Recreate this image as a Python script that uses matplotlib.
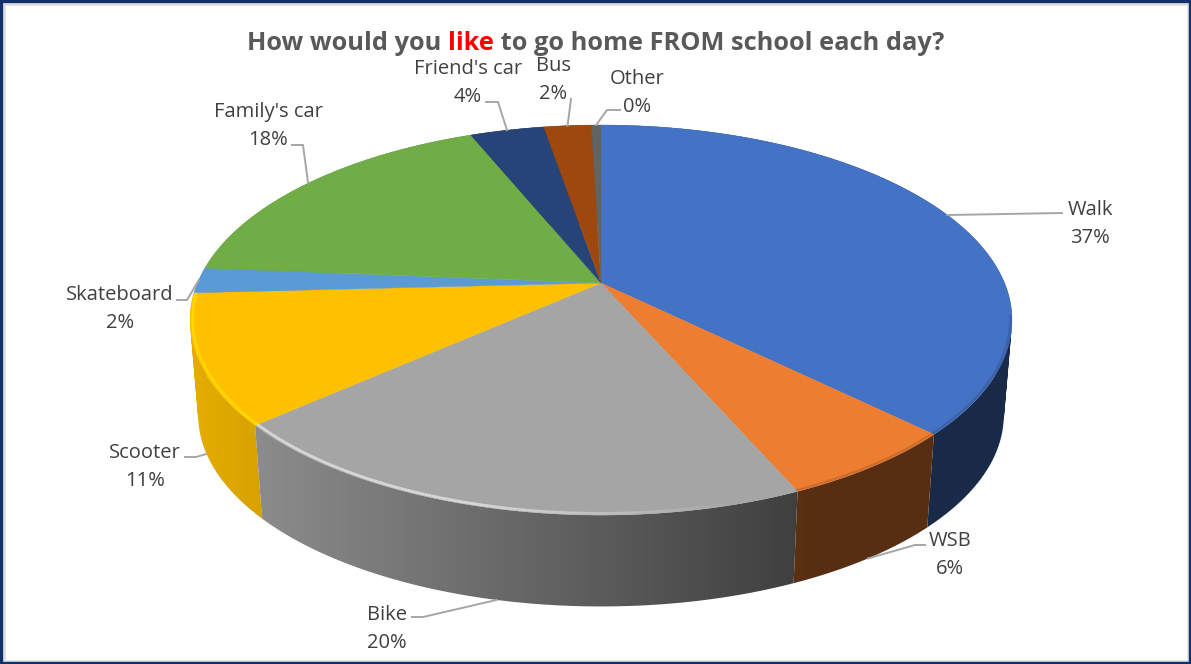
#!/usr/bin/env python3

import matplotlib

matplotlib.use("Agg")
import matplotlib.pyplot as plt
import numpy as np
from matplotlib.colors import to_rgb
from matplotlib.patches import PathPatch, Polygon, Rectangle
from matplotlib.path import Path

categories = ["Walk", "WSB", "Bike", "Scooter", "Skateboard", "Family's car", "Friend's car", "Bus", "Other"]
shares = [37.3, 6.1, 20.07, 10.7, 2.1, 17.52, 3.5, 2.24, 0.45]
percent_labels = ["37%", "6%", "20%", "11%", "2%", "18%", "4%", "2%", "0%"]
colors = ["#4472C4", "#ED7D31", "#A5A5A5", "#FFC000", "#5B9BD5", "#70AD47", "#264478", "#9E480E", "#636363"]

# where the labels sit, in pixels
label_pos = [(1090, 210), (950, 541), (387, 615), (145, 453), (120, 295), (268, 112), (468, 69), (553, 66), (637, 79)]
line_gap = 28
# leader start + elbow, last point is worked out from the slice
leader_start = [
    [(1062, 213)],
    [(925, 545), (915, 545)],
    [(412, 617), (423, 617)],
    [(185, 457), (196, 457)],
    [(177, 300), (187, 300)],
    [(292, 145), (303, 145)],
    [(486, 102), (498, 102)],
    [(571, 99)],
    [(620, 110), (607, 110)],
]
leader_on_wall = [False, True, True, True, False, False, False, False, False]

# perspective of the disc
CX, CY = 601, 283
A, B, K = 403.5, 188.0, 0.19
DEPTH, BOTTOM_SCALE = 96, 0.98


def project(theta, r=1.0):
    u, v = r * np.sin(theta), r * np.cos(theta)
    w = 1 + K * v
    return CX + A * u / w, CY - B * v / w


def project_bottom(theta):
    x, y = project(theta)
    return CX + (x - CX) * BOTTOM_SCALE, CY + DEPTH + (y - CY) * BOTTOM_SCALE


def shade(x):
    return np.clip(0.84 - (x - 265) * 0.45 / 525, 0.37, 0.9)


def wall_path(t):
    # one quad per step, all wound the same way so the union stays filled
    xs, ys = project(t)
    bxs, bys = project_bottom(t)
    quads = []
    for j in range(len(t) - 1):
        quad = np.array([(xs[j], ys[j]), (xs[j + 1], ys[j + 1]), (bxs[j + 1], bys[j + 1]), (bxs[j], bys[j])])
        qx, qy = quad[:, 0], quad[:, 1]
        area = np.sum(qx * np.roll(qy, -1) - np.roll(qx, -1) * qy)
        if area < 0:
            quad = quad[::-1]
        quads.append(Path(np.vstack([quad, quad[0]]), closed=True))
    return Path.make_compound_path(*quads)


fig = plt.figure(figsize=(11.91, 6.64), dpi=100)
ax = fig.add_axes([0, 0, 1, 1])
ax.axis("off")

ax.add_patch(Rectangle((3.5, 3.5), 1184, 657, facecolor="white", edgecolor="#DCDCDC", linewidth=1.8, zorder=0))
ax.add_patch(Rectangle((1, 1), 1189, 662, facecolor="none", edgecolor="#12306B", linewidth=2.4, zorder=0))

fractions = np.array(shares) / sum(shares)
edges = np.concatenate([[0], np.cumsum(fractions)]) * 2 * np.pi

# side wall, a horizontal gradient clipped to each slice's outline
gradient_x = np.arange(150, 1050)
for i, color in enumerate(colors):
    t = np.linspace(edges[i], edges[i + 1], 100)
    ys = project(t)[1]
    outline = PathPatch(wall_path(t), facecolor="none", edgecolor="none", transform=ax.transData)
    ax.add_patch(outline)
    rgb = np.array(to_rgb(color))
    strip = shade(gradient_x)[None, :, None] * rgb[None, None, :]
    # slices nearer the viewer go on top
    img = ax.imshow(strip, extent=(150, 1050, 664, 0), aspect="auto", zorder=2 + ys.mean() / 1000)
    img.set_clip_path(outline)

ax.set_xlim(0, 1191)
ax.set_ylim(664, 0)

# top of the disc
for i, color in enumerate(colors):
    t = np.linspace(edges[i], edges[i + 1], 100)
    xs, ys = project(t)
    pts = [(CX, CY)] + list(zip(xs, ys))
    ax.add_patch(Polygon(pts, facecolor=color, edgecolor=color, linewidth=0.3, zorder=3))

# bevel on the front rim: light on the left, dark on the right
t = np.linspace(edges[3], edges[4], 80)
xs, ys = project(t, 0.994)
ax.plot(xs, ys, color="#FFDD00", linewidth=2.0, alpha=0.8, zorder=4, solid_capstyle="butt")

t = np.linspace(edges[2], edges[3], 160)
xs, ys = project(t, 0.994)
for j in range(len(t) - 1):
    fade = np.clip((xs[j] - 480) / 260, 0, 1) if xs[j] > 480 else 0
    ax.plot(xs[j:j + 2], ys[j:j + 2], color="#E2E2E2", linewidth=2.0, alpha=0.85 * (1 - fade), zorder=4, solid_capstyle="butt")

t = np.linspace(np.radians(100), edges[2], 160)
xs, ys = project(t, 0.996)
ax.plot(xs[xs > 720], ys[xs > 720], color="#000000", linewidth=2.0, alpha=0.12, zorder=4)

# labels and leaders
for i, name in enumerate(categories):
    x, y = label_pos[i]
    ax.text(x, y, name, ha="center", va="center", fontsize=14.5, family="Open Sans", color="#404040", zorder=6)
    ax.text(x, y + line_gap, percent_labels[i], ha="center", va="center", fontsize=14.5, family="Open Sans", color="#404040", zorder=6)
    mid = (edges[i] + edges[i + 1]) / 2
    end = project_bottom(mid) if leader_on_wall[i] else project(mid)
    pts = leader_start[i] + [end]
    ax.plot([p[0] for p in pts], [p[1] for p in pts], color="#A6A6A6", linewidth=1.4, zorder=5)

# title, three pieces so that "like" can be red
title_parts = [("How would you ", "#595959"), ("like", "#FF0000"), (" to go home FROM school each day?", "#595959")]
renderer = fig.canvas.get_renderer()
x = 247
for part, color in title_parts:
    txt = ax.text(x, 43, part.replace(" ", "\u00a0"), ha="left", va="center", fontsize=18.3, fontweight="bold", family="Open Sans", color=color, zorder=6)
    x = txt.get_window_extent(renderer).x1

fig.savefig("out.png", dpi=100)
